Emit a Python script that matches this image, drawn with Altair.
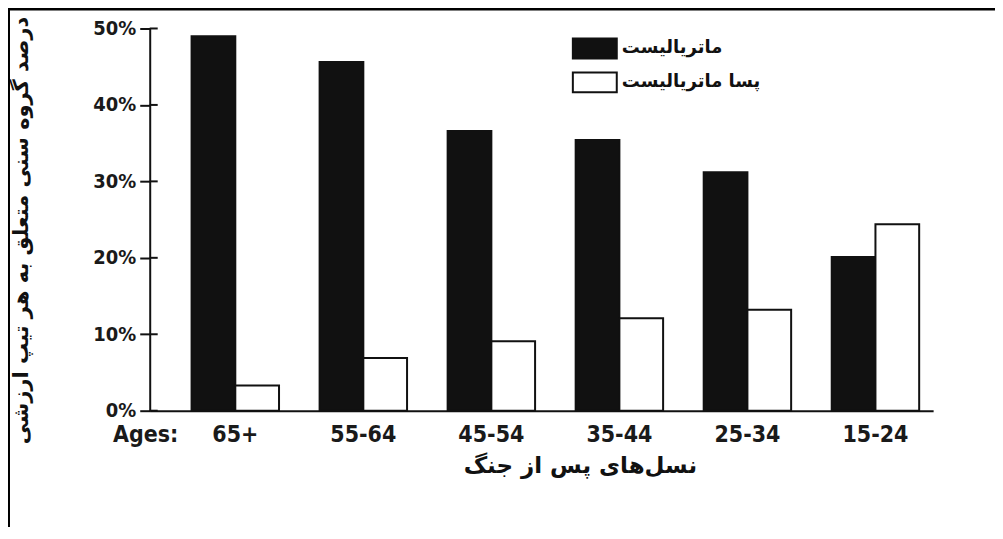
import altair as alt
import pandas as pd

ages = ["65+", "55-64", "45-54", "35-44", "25-34", "15-24"]
materialist = [49.0, 45.6, 36.6, 35.4, 31.2, 20.1]
post_materialist = [3.3, 6.9, 9.1, 12.1, 13.2, 24.4]
series = ["ماتریالیست", "پسا ماتریالیست"]
y_ticks = [0, 10, 20, 30, 40, 50]
x_title = "نسل‌های پس از جنگ"
y_title = "درصد گروه سنی متعلق به هر تیپ ارزشی"
ages_label = ["Ages:"]

rows = []
for i, a in enumerate(ages):
    rows.append({"age": a, "type": series[0], "value": materialist[i]})
    rows.append({"age": a, "type": series[1], "value": post_materialist[i]})
df = pd.DataFrame(rows)

W, H = 785, 383
FONT = "DejaVu Sans Condensed, DejaVu Sans, sans-serif"
PFONT = "DejaVu Sans"
INK = "#111111"

yscale = alt.Scale(domain=[0, 50], nice=False, zero=True)

bars = alt.Chart(df).mark_bar(stroke=INK, strokeWidth=2).encode(
    x=alt.X(
        "age:N", sort=ages,
        scale=alt.Scale(paddingInner=0.317, paddingOuter=0.218, align=0.75),
        axis=alt.Axis(
            title=x_title, labelAngle=0, ticks=False, domainColor=INK, domainWidth=2,
            labelFont=FONT, labelFontWeight="bold", labelFontSize=23, labelColor="#1a1a1a",
            labelPadding=13, titleFont=PFONT, titleFontWeight="bold", titleFontSize=23,
            titleX=431, titleY=44, titleColor=INK, titleBaseline="top",
        ),
    ),
    xOffset=alt.XOffset("type:N", sort=series, scale=alt.Scale(paddingInner=0, paddingOuter=0)),
    y=alt.Y(
        "value:Q", scale=yscale,
        axis=alt.Axis(
            values=y_ticks, labelExpr="datum.value + '%'", grid=False,
            domainColor=INK, domainWidth=2, tickColor=INK, tickWidth=2, tickSize=10,
            labelFont=FONT, labelFontWeight="bold", labelFontSize=20, labelColor="#1a1a1a",
            labelPadding=4, title=y_title, titleFont=PFONT, titleFontWeight="bold",
            titleFontSize=21, titleColor=INK, titleX=-128, titleY=202, titleAngle=-90,
            titleBaseline="middle", titleAlign="center",
        ),
    ),
    fill=alt.Fill(
        "type:N", sort=series,
        scale=alt.Scale(domain=series, range=[INK, "#ffffff"]),
        legend=alt.Legend(
            title=None, orient="none", legendX=426, legendY=0,
            symbolType="M-1.158,-0.526H1.158V0.526H-1.158Z", symbolSize=1444,
            symbolStrokeColor=INK, symbolStrokeWidth=2,
            labelFont=PFONT, labelFontWeight="bold", labelFontSize=18, labelColor=INK,
            labelOffset=7, rowPadding=-1,
        ),
    ),
)

ticks_df = pd.DataFrame({"value": y_ticks})
inner_ticks = alt.Chart(ticks_df).mark_rule(color=INK, strokeWidth=2).encode(
    y=alt.Y("value:Q", scale=yscale),
    x=alt.value(0),
    x2=alt.value(8),
)

ages_df = pd.DataFrame({"t": ages_label})
ages_text = alt.Chart(ages_df).mark_text(
    font=FONT, fontWeight="bold", fontSize=23, color="#1a1a1a", align="center", baseline="top"
).encode(text="t:N", x=alt.value(-4), y=alt.value(H + 13))

frame_df = pd.DataFrame({"a": [0]})
frame_left = alt.Chart(frame_df).mark_rule(color="#000000", strokeWidth=3).encode(
    x=alt.value(-141.5), y=alt.value(-21), y2=alt.value(H + 120)
)
frame_top = alt.Chart(frame_df).mark_rule(color="#000000", strokeWidth=3).encode(
    x=alt.value(-143), x2=alt.value(W + 70), y=alt.value(-19.5)
)

chart = alt.layer(bars, inner_ticks, ages_text, frame_left, frame_top).properties(
    width=W, height=H,
    autosize=alt.AutoSizeParams(type="none"),
    padding={"left": 142, "top": 20, "right": 62, "bottom": 116},
    background="#ffffff",
).configure_view(stroke=None)

chart.save("out.html", embed_options={"renderer": "svg", "actions": False})
